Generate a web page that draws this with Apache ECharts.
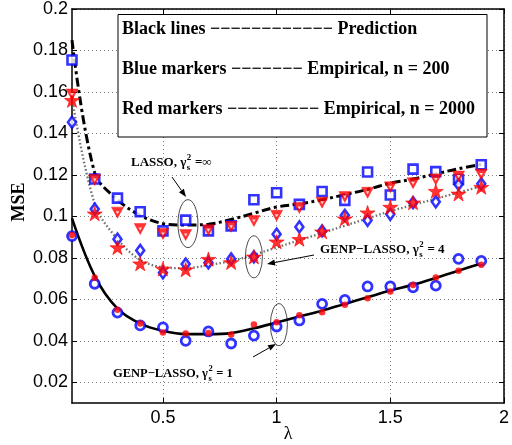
<!DOCTYPE html>
<html><head><meta charset="utf-8">
<script src="https://cdn.jsdelivr.net/npm/echarts@6/dist/echarts.min.js"></script>
<style>html,body{margin:0;padding:0;background:#fff}#c{width:512px;height:445px}</style>
</head><body><div id="c"></div>
<script>
// ---- data ----
const lambdas = [0.1,0.2,0.3,0.4,0.5,0.6,0.7,0.8,0.9,1.0,1.1,1.2,1.3,1.4,1.5,1.6,1.7,1.8,1.9];
// prediction curves (black lines)
const predLasso = [0.185,0.121,0.108,0.1005,0.0965,0.0958,0.0962,0.0985,0.1015,0.1045,0.106,0.108,0.1105,0.113,0.116,0.118,0.1205,0.123,0.125];
const predG4    = [0.157,0.106,0.089,0.079,0.0755,0.075,0.0765,0.0785,0.0815,0.085,0.0885,0.092,0.0955,0.099,0.1025,0.1055,0.1085,0.1115,0.1145];
const predG1    = [0.099,0.0712,0.0555,0.0483,0.0448,0.0432,0.0432,0.0437,0.046,0.0488,0.0517,0.0545,0.0578,0.061,0.0642,0.067,0.0703,0.0738,0.0773];
// empirical, n = 200 (blue)
const lasso200 = [0.1754,0.118,0.1088,0.1022,0.093,0.0982,0.093,0.0954,0.108,0.1114,0.1058,0.112,0.1077,0.1214,0.1103,0.1228,0.1216,0.1178,0.1249];
const g4_200   = [0.1454,0.1035,0.089,0.0836,0.0728,0.077,0.0776,0.0795,0.0805,0.0914,0.0949,0.093,0.1005,0.0981,0.101,0.1066,0.107,0.1154,0.1157];
const g1_200   = [0.0905,0.0675,0.0536,0.0474,0.0465,0.040,0.0445,0.0387,0.0425,0.0469,0.0498,0.0578,0.0597,0.0662,0.0662,0.0658,0.0666,0.0795,0.0785];
// empirical, n = 2000 (red)
const lasso2000 = [0.1588,0.1175,0.1018,0.0939,0.0915,0.091,0.0933,0.095,0.0978,0.1003,0.104,0.1066,0.1093,0.1114,0.114,0.116,0.1178,0.1192,0.1202];
const g4_2000   = [0.156,0.1013,0.0850,0.0772,0.0747,0.0743,0.0794,0.0778,0.0805,0.0878,0.089,0.0926,0.0989,0.1018,0.1045,0.1066,0.1122,0.1109,0.1141];
const g1_2000   = [0.091,0.0704,0.055,0.0483,0.044,0.0435,0.0437,0.043,0.0478,0.049,0.0523,0.0538,0.0574,0.0605,0.0638,0.0669,0.0705,0.0738,0.0767];
// ticks
const xTicks = [0.5,1,1.5,2];
const yTicks = [0.02,0.04,0.06,0.08,0.1,0.12,0.14,0.16,0.18,0.2];
const xRange = [0.1,2];
const yRange = [0.01,0.2];

// ---- chart ----
const RED = '#ff0000', BLUE = '#0000ff';
const STAR = 'path://M50,0 L61.2,34.5 L97.6,34.5 L68.2,55.9 L79.4,90.5 L50,69.1 L20.6,90.5 L31.8,55.9 L2.4,34.5 L38.8,34.5 Z';
const pts = arr => lambdas.map((l,i)=>[l,arr[i]]);
const chart = echarts.init(document.getElementById('c'), null, {renderer:'canvas'});

const axLine = {show:true, onZero:false, lineStyle:{color:'#000', width:1.5}};
const grid = {show:true, lineStyle:{color:'#808080', width:1, type:[1,3]}};
const lblFont = {fontSize:18, color:'#000', fontFamily:'"Liberation Sans", Arial, sans-serif'};
const fmt = v => String(Math.round(v*100)/100);

function xAx(pos, main){
  return {type:'value', position:pos, min:xRange[0], max:xRange[1],
    axisLine:axLine,
    axisTick:{show:true, inside:true, length:5, customValues:xTicks, lineStyle:{color:'#000', width:1}},
    axisLabel:Object.assign({show:main, customValues:xTicks, margin:6, formatter:fmt, showMinLabel:true, showMaxLabel:true}, lblFont),
    splitLine: main ? grid : {show:false}};
}
function yAx(pos, main){
  return {type:'value', position:pos, min:yRange[0], max:yRange[1],
    axisLine:axLine,
    axisTick:{show:true, inside:true, length:5, customValues:yTicks, lineStyle:{color:'#000', width:1}},
    axisLabel:Object.assign({show:main, customValues:yTicks, margin:4, formatter:fmt, showMinLabel:true, showMaxLabel:true}, lblFont),
    splitLine: main ? grid : {show:false}};
}

const lineS = (name, arr, ls, z) => ({name, type:'line', data:pts(arr), showSymbol:false, smooth:0.35, lineStyle:ls, silent:true, z, animation:false});
const scat = (name, arr, symbol, size, style, extra) => Object.assign({name, type:'scatter', data:pts(arr), symbol, symbolSize:size, itemStyle:style, silent:true, z:5, animation:false}, extra||{});

chart.setOption({
  animation:false,
  backgroundColor:'#fff',
  grid:{left:72, right:2, top:7, bottom:42, containLabel:false},
  xAxis:[xAx('bottom', true), xAx('top', false)],
  yAxis:[yAx('left', true), yAx('right', false)],
  series:[
    lineS('GENP-LASSO γ=1 prediction', predG1, {color:'#000', width:2.6}, 3),
    lineS('GENP-LASSO γ=4 prediction', predG4, {color:'#707070', width:2.3, type:[1.6,2.2]}, 3),
    lineS('LASSO prediction', predLasso, {color:'#000', width:3, type:[9,3.5,3,3.5]}, 3),
    scat('LASSO n=200', lasso200, 'rect', 9, {color:'#fff', borderColor:BLUE, borderWidth:2.6}),
    scat('GENP γ=4 n=200', g4_200, 'diamond', [8,11], {color:'#fff', borderColor:BLUE, borderWidth:2.6}),
    scat('GENP γ=1 n=200', g1_200, 'circle', 9, {color:'#fff', borderColor:BLUE, borderWidth:2.8}),
    scat('LASSO n=2000', lasso2000, 'triangle', [12,11], {color:RED, borderColor:RED, borderWidth:0.5}, {symbolRotate:180, z:6}),
    scat('LASSO n=2000 centre', lasso2000, 'triangle', [3.5,3], {color:'#fff'}, {symbolRotate:180, z:7}),
    scat('GENP γ=4 n=2000', g4_2000, STAR, 15, {color:RED, borderColor:RED, borderWidth:0.8}, {symbolKeepAspect:true, z:6}),
    scat('GENP γ=1 n=2000', g1_2000, 'circle', 6.5, {color:RED}, {z:6})
  ]
});

// ---- annotations ----
const ctx = document.createElement('canvas').getContext('2d');
const SERIF = '"Liberation Serif", "Times New Roman", serif';
function txt(x, y, text, size, bold, extra){
  return Object.assign({type:'text', x, y, z:100, silent:true,
    style:{text, font:(bold?'bold ':'')+size+'px '+SERIF, fill:'#000', align:'left', verticalAlign:'middle', textAlign:'left', textVerticalAlign:'middle'}}, extra||{});
}
function measure(text, size){ ctx.font = 'bold '+size+'px '+SERIF; return ctx.measureText(text).width; }
function annot(x, y, pre, post, size){
  const w = measure(pre, size);
  const s2 = size*0.68;
  const ws = measure('2', s2);
  return [
    txt(x, y, pre, size, true),
    txt(x+w+0.5, y-5, '2', s2, true),
    txt(x+w+0.5, y+5, 's', s2, true),
    txt(x+w+ws+1, y, post, size, true)
  ];
}
function arrow(x1,y1,x2,y2){
  const a = Math.atan2(y2-y1, x2-x1), L = 8, W = 3;
  const bx = x2 - L*Math.cos(a), by = y2 - L*Math.sin(a);
  const px = -Math.sin(a)*W, py = Math.cos(a)*W;
  return [
    {type:'line', z:100, silent:true, shape:{x1,y1,x2:bx,y2:by}, style:{stroke:'#000', lineWidth:1}},
    {type:'polygon', z:100, silent:true, shape:{points:[[x2,y2],[bx+px,by+py],[bx-px,by-py]]}, style:{fill:'#000'}}
  ];
}
function ellipse(lam, val, rx, ry){
  const p = chart.convertToPixel({gridIndex:0}, [lam, val]);
  return {type:'circle', z:100, silent:true, x:p[0], y:p[1], scaleX:rx/ry, scaleY:1,
    shape:{cx:0, cy:0, r:ry}, style:{fill:'none', stroke:'#000', lineWidth:1, strokeNoScale:true}};
}

const g = [];
// legend box
g.push({type:'rect', z:90, silent:true, shape:{x:118, y:14.5, width:369, height:122.5}, style:{fill:'#fff', stroke:'#000', lineWidth:1}});
g.push(txt(122, 29, 'Black lines −−−−−−−−−−−− Prediction', 18, true));
g.push(txt(122, 69, 'Blue markers −−−−−−− Empirical, n = 200', 18, true));
g.push(txt(122, 109, 'Red markers −−−−−−−−− Empirical, n = 2000', 18, true));
// axis names
g.push(txt(19, 202, 'MSE', 18, true, {rotation:Math.PI/2, style:{text:'MSE', font:'bold 18px '+SERIF, fill:'#000', align:'center', verticalAlign:'middle', textAlign:'center', textVerticalAlign:'middle'}}));
g.push(txt(288, 434, 'λ', 18, false, {style:{text:'λ', font:'18px '+SERIF, fill:'#000', align:'center', verticalAlign:'middle', textAlign:'center', textVerticalAlign:'middle'}}));
// annotations
g.push(...annot(131, 163, 'LASSO, γ', ' =∞', 13));
g.push(...annot(320, 250, 'GENP−LASSO, γ', ' = 4', 13));
g.push(...annot(113, 374, 'GENP−LASSO, γ', ' = 1', 12.5));
g.push(...arrow(172, 177, 186, 197));
g.push(...arrow(314, 255, 267, 264));
g.push(...arrow(253, 357, 276, 344));
g.push(ellipse(0.61, 0.0965, 10, 24));
g.push(ellipse(0.9, 0.0805, 8.5, 21));
g.push(ellipse(1.01, 0.0478, 8.5, 21));

chart.setOption({graphic:{elements:g}});
</script>
</body></html>
